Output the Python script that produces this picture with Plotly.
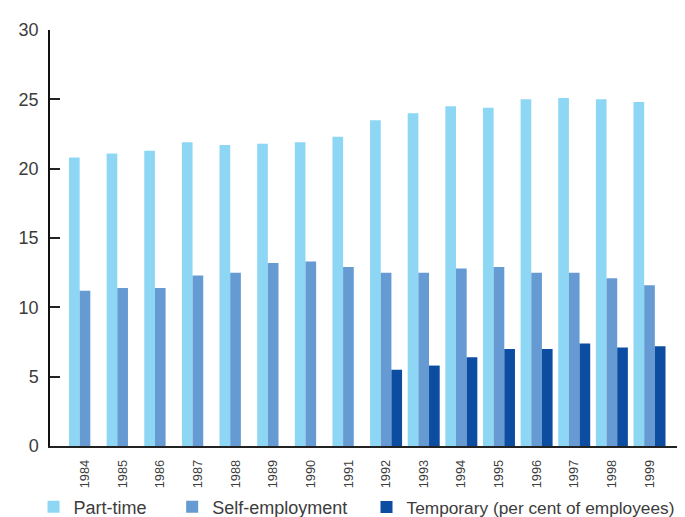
import plotly.graph_objects as go

years = [str(y) for y in range(1984, 2000)]
part_time = [20.8, 21.1, 21.3, 21.9, 21.7, 21.8, 21.9, 22.3, 23.5, 24.0, 24.5, 24.4, 25.0, 25.1, 25.0, 24.8]
self_employment = [11.2, 11.4, 11.4, 12.3, 12.5, 13.2, 13.3, 12.9, 12.5, 12.5, 12.8, 12.9, 12.5, 12.5, 12.1, 11.6]
temporary = [None, None, None, None, None, None, None, None, 5.5, 5.8, 6.4, 7.0, 7.0, 7.4, 7.1, 7.2]

y_ticks = [0, 5, 10, 15, 20, 25, 30]

FONT = "Liberation Sans"
TXT = "#3c3c3c"

fig = go.Figure()
fig.add_trace(go.Bar(x=years, y=part_time, name="Part-time",
                     marker=dict(color="#8DD7F5", line=dict(width=0)), legend="legend"))
fig.add_trace(go.Bar(x=years, y=self_employment, name="Self-employment",
                     marker=dict(color="#659AD2", line=dict(width=0)), legend="legend2"))
fig.add_trace(go.Bar(x=years, y=temporary, name="Temporary (per cent of employees)",
                     marker=dict(color="#0C4DA2", line=dict(width=0)), legend="legend3"))

leg_common = dict(orientation="h", yanchor="middle", xanchor="left", y=-0.147,
                  bgcolor="rgba(0,0,0,0)", itemwidth=30)

fig.update_layout(
    template="none",
    width=677, height=509,
    margin=dict(l=42, r=2, t=22, b=71, autoexpand=False),
    paper_bgcolor="white", plot_bgcolor="white",
    barmode="group", bargap=0.15, bargroupgap=0,
    showlegend=True,
    legend=dict(x=-0.026, font=dict(family=FONT, size=18, color=TXT), **leg_common),
    legend2=dict(x=0.193, font=dict(family=FONT, size=18, color=TXT), **leg_common),
    legend3=dict(x=0.500, font=dict(family=FONT, size=17.3, color=TXT), **leg_common),
    xaxis=dict(
        type="category", range=[-0.93, 15.89], automargin=False,
        showline=True, linecolor="#222", linewidth=1.5,
        showgrid=False, ticks="", tickangle=-90,
        tickfont=dict(family=FONT, size=12.8, color=TXT),
        ticklabelstandoff=7,
    ),
    yaxis=dict(
        range=[0, 30], tickvals=y_ticks, automargin=False,
        showline=True, linecolor="#111", linewidth=1.5,
        showgrid=False, zeroline=False,
        ticks="inside", ticklen=10, tickwidth=1.5, tickcolor="#222",
        tickfont=dict(family=FONT, size=18, color=TXT),
        ticklabelstandoff=6,
    ),
    shapes=[dict(type="line", xref="paper", yref="paper", x0=1, x1=1, y0=0, y1=-0.015,
                 line=dict(color="#222", width=1.5))],
)

fig.write_html("out.html")
